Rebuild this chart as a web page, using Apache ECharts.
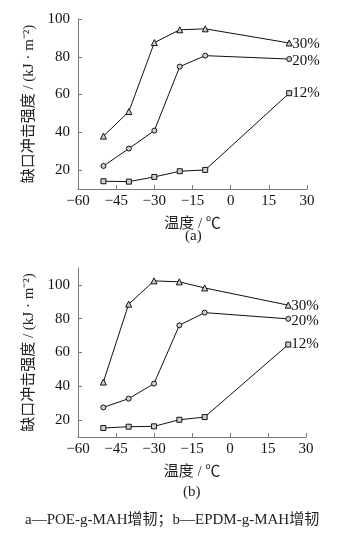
<!DOCTYPE html>
<html><head><meta charset="utf-8">
<script src="https://cdn.jsdelivr.net/npm/echarts@6/dist/echarts.min.js"></script>
<style>html,body{margin:0;padding:0;background:#fff}#c{width:339px;height:540px}</style>
</head><body><div id="c"></div>
<script>
const temps = [-50, -40, -30, -20, -10, 23];
const seriesNames = ['30%', '20%', '12%'];
const a30 = [38, 51, 87.5, 94.3, 94.8, 87.3];
const a20 = [22.2, 31.4, 40.9, 74.8, 80.6, 78.8];
const a12 = [14.1, 13.9, 16.4, 19.4, 20.1, 60.7];
const b30 = [42.5, 88.6, 102.4, 101.8, 98.2, 88];
const b20 = [27.5, 32.7, 41.6, 76.1, 83.6, 79.9];
const b12 = [15.3, 16.1, 16.3, 20.2, 21.8, 64.7];
const xTicks = [-60, -45, -30, -15, 0, 15, 30];
const yTicks = [20, 40, 60, 80, 100];
const xTitle = '温度 / ℃';
const yTitle = '缺口冲击强度 / (kJ · m⁻²)';
const panelLabels = ['(a)', '(b)'];
const caption = 'a—POE-g-MAH增韧；b—EPDM-g-MAH增韧';

const serif = '"Liberation Serif","Noto Sans CJK SC",serif';
const symbols = ['triangle', 'circle', 'rect'];
const symbolSizes = [6, 5, 5];
const labelOffsets = [[3, 1], [3, 2], [3, 0]];

function xAxis(idx) {
  return {
    type: 'value', gridIndex: idx, min: -60, max: 30, interval: 15,
    axisLine: {onZero: false, lineStyle: {color: '#7a7a7a', width: 1}},
    axisTick: {inside: true, length: 4, lineStyle: {color: '#7a7a7a'}},
    splitLine: {show: false},
    axisLabel: {color: '#111', fontFamily: serif, fontSize: 15, margin: 5,
      formatter: v => (v < 0 ? '−' + Math.abs(v) : '' + v)},
    name: xTitle, nameLocation: 'middle', nameGap: 28,
    nameTextStyle: {color: '#222', fontFamily: serif, fontSize: 15}
  };
}
function yAxis(idx, max) {
  return {
    type: 'value', gridIndex: idx, min: 10, max: max,
    axisLine: {show: true, onZero: false, lineStyle: {color: '#7a7a7a', width: 1}},
    axisTick: {show: true, inside: true, length: 4, customValues: yTicks, lineStyle: {color: '#7a7a7a'}},
    splitLine: {show: false},
    axisLabel: {color: '#111', fontFamily: serif, fontSize: 15, margin: 8, customValues: yTicks},
    name: yTitle, nameLocation: 'middle', nameGap: 40, nameRotate: 90,
    nameTextStyle: {color: '#222', fontFamily: serif, fontSize: 15}
  };
}
function mkSeries(vals, k, idx) {
  return {
    type: 'line', xAxisIndex: idx, yAxisIndex: idx,
    data: vals.map((v, i) => [temps[i], v]),
    symbol: symbols[k], symbolSize: symbolSizes[k],
    lineStyle: {color: '#111', width: 1},
    itemStyle: {color: '#cfcfcf', borderColor: '#111', borderWidth: 1},
    animation: false, silent: true,
    endLabel: {show: true, formatter: seriesNames[k], color: '#111', fontFamily: serif, fontSize: 15,
      distance: labelOffsets[k][0], offset: [0, labelOffsets[k][1]]}
  };
}

const chart = echarts.init(document.getElementById('c'), null, {renderer: 'canvas'});
chart.setOption({
  backgroundColor: '#fff',
  animation: false,
  grid: [
    {left: 78, right: 32, top: 19, height: 170},
    {left: 78, right: 33, top: 268, height: 169}
  ],
  xAxis: [xAxis(0), xAxis(1)],
  yAxis: [yAxis(0, 100), yAxis(1, 110)],
  series: [
    mkSeries(a30, 0, 0), mkSeries(a20, 1, 0), mkSeries(a12, 2, 0),
    mkSeries(b30, 0, 1), mkSeries(b20, 1, 1), mkSeries(b12, 2, 1)
  ],
  graphic: [
    {type: 'text', left: 185, top: 229, style: {text: panelLabels[0], font: '15px ' + serif, fill: '#222'}},
    {type: 'text', left: 183, top: 485, style: {text: panelLabels[1], font: '15px ' + serif, fill: '#222'}},
    {type: 'text', left: 25, top: 513, style: {text: caption, font: '15px ' + serif, fill: '#222'}}
  ]
});
</script></body></html>
